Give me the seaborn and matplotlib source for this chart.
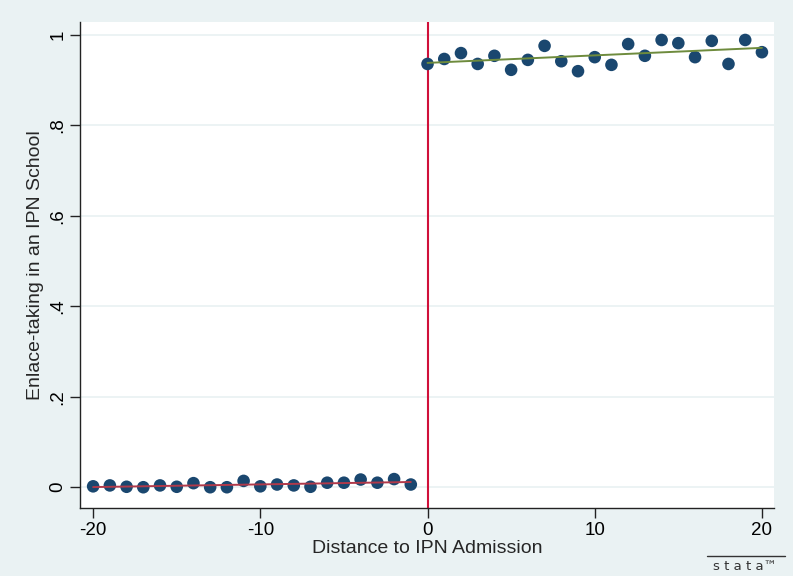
import matplotlib
matplotlib.use("Agg")
import matplotlib.pyplot as plt
import numpy as np
import pandas as pd
import seaborn as sns

# Binned means of Enlace-taking by distance to the admission cutoff
dist_below = [-20, -19, -18, -17, -16, -15, -14, -13, -12, -11,
              -10, -9, -8, -7, -6, -5, -4, -3, -2, -1]
share_below = [0.002, 0.004, 0.001, 0.000, 0.004, 0.001, 0.009, 0.000, 0.000, 0.014,
               0.002, 0.006, 0.004, 0.001, 0.010, 0.010, 0.017, 0.010, 0.018, 0.006]
dist_above = list(range(0, 21))
share_above = [0.936, 0.947, 0.960, 0.936, 0.954, 0.923, 0.945, 0.976, 0.942, 0.920,
               0.951, 0.934, 0.980, 0.954, 0.989, 0.982, 0.951, 0.987, 0.936, 0.989,
               0.962]

x_ticks = [-20, -10, 0, 10, 20]
y_ticks = [0, 0.2, 0.4, 0.6, 0.8, 1.0]
y_tick_labels = ["0", ".2", ".4", ".6", ".8", "1"]

below = pd.DataFrame({"dist": dist_below, "share": share_below})
above = pd.DataFrame({"dist": dist_above, "share": share_above})

sns.set_style("white")
plt.rcParams["font.family"] = ["Liberation Sans", "DejaVu Sans"]

BG = "#EAF2F3"
NAVY = "#1A476F"
MAROON = "#B0394A"
GREEN = "#6E8B3D"
CUTOFF = "#D0103A"

fig = plt.figure(figsize=(7.93, 5.76), dpi=100, facecolor=BG)
ax = fig.add_axes([0.101, 0.118, 0.875, 0.844])
ax.set_facecolor("white")

ax.set_xlim(-20.78, 20.72)
ax.set_ylim(-0.046, 1.029)

# horizontal grid
for yv in y_ticks:
    ax.axhline(yv, color=BG, lw=1.3, zorder=0)

# scatter of binned means
sns.scatterplot(data=below, x="dist", y="share", ax=ax, color=NAVY, s=82,
                edgecolor="none", zorder=3)
sns.scatterplot(data=above, x="dist", y="share", ax=ax, color=NAVY, s=82,
                edgecolor="none", zorder=3)

# linear fits on each side of the cutoff
sns.regplot(data=below, x="dist", y="share", ax=ax, scatter=False, ci=None,
            line_kws={"color": MAROON, "lw": 1.4, "zorder": 4})
sns.regplot(data=above, x="dist", y="share", ax=ax, scatter=False, ci=None,
            line_kws={"color": GREEN, "lw": 1.4, "zorder": 4})

ax.axvline(0, color=CUTOFF, lw=1.5, zorder=2)

ax.set_xticks(x_ticks)
ax.set_xticklabels([str(t) for t in x_ticks])
ax.set_yticks(y_ticks)
ax.set_yticklabels(y_tick_labels, rotation=90, va="center")

for s in ["top", "right"]:
    ax.spines[s].set_visible(False)
for s in ["left", "bottom"]:
    ax.spines[s].set_color("#222222")
    ax.spines[s].set_linewidth(1.0)

ax.tick_params(axis="both", direction="out", length=7, width=1.0,
               color="#222222", labelsize=13.5, labelcolor="black", pad=3,
               left=True, bottom=True)

ax.set_xlabel("Distance to IPN Admission", fontsize=14, labelpad=1)
ax.set_ylabel("Enlace-taking in an IPN School", fontsize=14, labelpad=4)

# stata mark in the lower right corner
fig.add_artist(plt.Line2D([707 / 793, 785 / 793], [1 - 556 / 576, 1 - 556 / 576],
                          color="#333333", lw=1.0))
fig.text(745 / 793, 1 - 566 / 576, "s t a t a\u2122", ha="center", va="center",
         fontsize=9.5, color="#333333", family=["DejaVu Sans"])

fig.savefig("out.png", dpi=100, facecolor=BG)
